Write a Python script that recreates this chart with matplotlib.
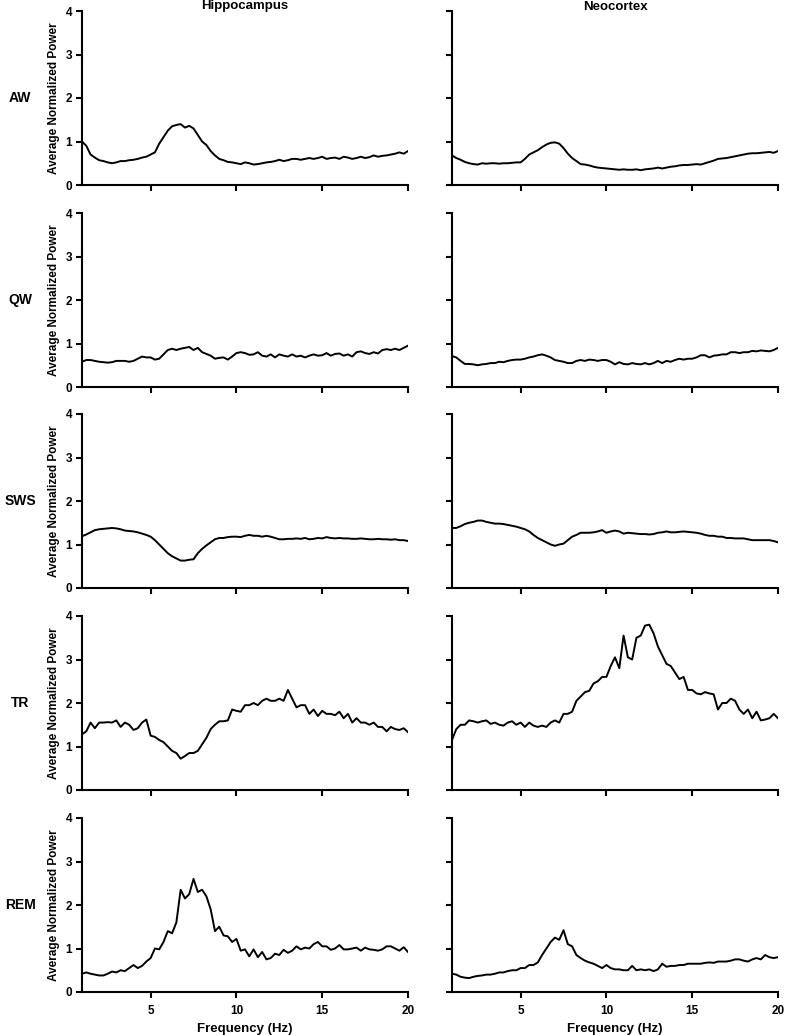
import matplotlib as mpl

mpl.use("Agg")
import matplotlib.pyplot as plt
import numpy as np

# frequency grid (Hz), 0.25 Hz steps from 1 to 20
freq = np.arange(1.0, 20.001, 0.25)

states = ["AW", "QW", "SWS", "TR", "REM"]
regions = ["Hippocampus", "Neocortex"]

hip_aw = [1.0, 0.9, 0.7, 0.63, 0.57, 0.55, 0.52, 0.5, 0.52, 0.55, 0.55, 0.57, 0.58, 0.6, 0.63, 0.65,
          0.7, 0.75, 0.95, 1.1, 1.25, 1.35, 1.38, 1.4, 1.32, 1.36, 1.3, 1.15, 1.0, 0.92, 0.78, 0.68,
          0.6, 0.57, 0.53, 0.52, 0.5, 0.48, 0.52, 0.5, 0.47, 0.48, 0.5, 0.52, 0.53, 0.55, 0.58, 0.55,
          0.57, 0.6, 0.6, 0.58, 0.6, 0.62, 0.6, 0.62, 0.65, 0.6, 0.62, 0.63, 0.6, 0.65, 0.63, 0.6,
          0.62, 0.65, 0.62, 0.64, 0.68, 0.65, 0.67, 0.68, 0.7, 0.72, 0.75, 0.72, 0.78]
neo_aw = [0.68, 0.62, 0.58, 0.53, 0.5, 0.48, 0.47, 0.5, 0.49, 0.5, 0.5, 0.49, 0.5, 0.5, 0.51, 0.52,
          0.52, 0.6, 0.7, 0.75, 0.8, 0.87, 0.93, 0.97, 0.98, 0.95, 0.85, 0.72, 0.62, 0.55, 0.48, 0.47,
          0.45, 0.42, 0.4, 0.39, 0.38, 0.37, 0.36, 0.35, 0.36, 0.35, 0.35, 0.36, 0.34, 0.36, 0.37, 0.38,
          0.4, 0.38, 0.4, 0.42, 0.43, 0.45, 0.46, 0.46, 0.47, 0.48, 0.47, 0.5, 0.53, 0.56, 0.6, 0.61,
          0.62, 0.64, 0.66, 0.68, 0.7, 0.72, 0.73, 0.73, 0.74, 0.75, 0.76, 0.74, 0.78]

hip_qw = [0.58, 0.62, 0.62, 0.6, 0.58, 0.57, 0.56, 0.57, 0.6, 0.6, 0.6, 0.58, 0.6, 0.65, 0.7, 0.68,
          0.68, 0.63, 0.65, 0.75, 0.85, 0.88, 0.85, 0.88, 0.9, 0.92, 0.85, 0.9, 0.8, 0.76, 0.72, 0.65,
          0.67, 0.68, 0.63, 0.7, 0.78, 0.8, 0.78, 0.74, 0.75, 0.8, 0.72, 0.7, 0.75, 0.68, 0.75, 0.72,
          0.7, 0.75, 0.7, 0.72, 0.68, 0.72, 0.75, 0.72, 0.73, 0.78, 0.72, 0.76, 0.77, 0.72, 0.75, 0.7,
          0.8, 0.82, 0.78, 0.76, 0.8, 0.77, 0.85, 0.87, 0.85, 0.88, 0.85, 0.9, 0.95]
neo_qw = [0.71, 0.68, 0.6, 0.53, 0.53, 0.52, 0.5, 0.52, 0.53, 0.55, 0.55, 0.58, 0.57, 0.6, 0.62, 0.63,
          0.63, 0.65, 0.68, 0.7, 0.73, 0.75, 0.72, 0.68, 0.62, 0.6, 0.58, 0.55, 0.55, 0.6, 0.62, 0.6,
          0.63, 0.62, 0.6, 0.62, 0.62, 0.58, 0.52, 0.57, 0.53, 0.52, 0.55, 0.53, 0.52, 0.55, 0.52, 0.55,
          0.6, 0.55, 0.6, 0.58, 0.62, 0.65, 0.63, 0.65, 0.65, 0.68, 0.73, 0.73, 0.68, 0.72, 0.73, 0.75,
          0.75, 0.8, 0.8, 0.78, 0.8, 0.8, 0.83, 0.82, 0.84, 0.83, 0.82, 0.85, 0.9]

hip_sws = [1.19, 1.23, 1.28, 1.33, 1.35, 1.36, 1.37, 1.38, 1.37, 1.35, 1.32, 1.31, 1.3, 1.28, 1.25, 1.22,
           1.18, 1.1, 1.0, 0.9, 0.8, 0.73, 0.68, 0.63, 0.63, 0.65, 0.66, 0.8, 0.9, 0.98, 1.05, 1.12,
           1.15, 1.15, 1.17, 1.18, 1.18, 1.17, 1.2, 1.22, 1.2, 1.2, 1.18, 1.2, 1.18, 1.15, 1.12, 1.12,
           1.13, 1.13, 1.14, 1.13, 1.15, 1.12, 1.13, 1.15, 1.14, 1.17, 1.15, 1.14, 1.15, 1.14, 1.14, 1.13,
           1.13, 1.14, 1.13, 1.12, 1.12, 1.13, 1.12, 1.12, 1.11, 1.12, 1.1, 1.1, 1.08]
neo_sws = [1.38, 1.38, 1.42, 1.47, 1.5, 1.52, 1.55, 1.55, 1.52, 1.5, 1.48, 1.48, 1.47, 1.45, 1.43, 1.41,
           1.38, 1.35, 1.3, 1.22, 1.15, 1.1, 1.05, 1.0, 0.97, 1.0, 1.02, 1.1, 1.18, 1.22, 1.27, 1.27,
           1.27, 1.28, 1.3, 1.33, 1.27, 1.3, 1.32, 1.3, 1.25, 1.27, 1.26, 1.25, 1.24, 1.24, 1.23, 1.24,
           1.27, 1.28, 1.3, 1.28, 1.28, 1.29, 1.3, 1.29, 1.28, 1.27, 1.25, 1.22, 1.2, 1.2, 1.18, 1.18,
           1.15, 1.15, 1.14, 1.14, 1.14, 1.12, 1.1, 1.1, 1.1, 1.1, 1.1, 1.08, 1.05]

hip_tr = [1.28, 1.35, 1.55, 1.42, 1.55, 1.55, 1.56, 1.55, 1.6, 1.45, 1.55, 1.5, 1.38, 1.42, 1.55, 1.62,
          1.25, 1.22, 1.15, 1.1, 1.0, 0.9, 0.85, 0.72, 0.78, 0.85, 0.85, 0.9, 1.05, 1.2, 1.4, 1.5,
          1.58, 1.58, 1.6, 1.85, 1.82, 1.8, 1.95, 1.95, 2.0, 1.95, 2.05, 2.1, 2.05, 2.05, 2.1, 2.05,
          2.3, 2.1, 1.9, 1.95, 1.95, 1.75, 1.85, 1.7, 1.82, 1.75, 1.75, 1.72, 1.8, 1.65, 1.75, 1.55,
          1.65, 1.55, 1.55, 1.5, 1.55, 1.45, 1.45, 1.35, 1.45, 1.4, 1.38, 1.42, 1.33]
neo_tr = [1.15, 1.4, 1.5, 1.5, 1.6, 1.58, 1.55, 1.58, 1.6, 1.52, 1.55, 1.5, 1.48, 1.55, 1.58, 1.5,
          1.55, 1.45, 1.55, 1.48, 1.45, 1.48, 1.45, 1.55, 1.6, 1.55, 1.75, 1.75, 1.8, 2.05, 2.15, 2.25,
          2.28, 2.45, 2.5, 2.6, 2.6, 2.85, 3.05, 2.8, 3.55, 3.05, 3.0, 3.5, 3.55, 3.78, 3.8, 3.6,
          3.3, 3.1, 2.9, 2.85, 2.7, 2.55, 2.6, 2.3, 2.3, 2.22, 2.2, 2.25, 2.22, 2.2, 1.85, 2.0,
          2.0, 2.1, 2.05, 1.85, 1.75, 1.85, 1.65, 1.8, 1.6, 1.62, 1.65, 1.75, 1.65]

hip_rem = [0.42, 0.45, 0.42, 0.4, 0.38, 0.38, 0.42, 0.47, 0.45, 0.5, 0.48, 0.55, 0.62, 0.55, 0.6, 0.7,
           0.78, 1.0, 0.98, 1.15, 1.4, 1.35, 1.6, 2.35, 2.15, 2.25, 2.6, 2.3, 2.35, 2.2, 1.9, 1.4,
           1.5, 1.3, 1.28, 1.15, 1.22, 0.95, 0.98, 0.82, 0.98, 0.8, 0.92, 0.75, 0.78, 0.88, 0.85, 0.97,
           0.9, 0.95, 1.05, 0.98, 1.02, 1.0, 1.1, 1.15, 1.05, 1.05, 0.97, 1.0, 1.08, 0.98, 0.98, 1.0,
           1.02, 0.95, 1.02, 0.98, 0.97, 0.95, 0.98, 1.05, 1.05, 1.0, 0.95, 1.03, 0.92]
neo_rem = [0.42, 0.4, 0.35, 0.33, 0.32, 0.35, 0.37, 0.38, 0.4, 0.4, 0.42, 0.45, 0.45, 0.48, 0.5, 0.5,
           0.55, 0.55, 0.62, 0.62, 0.68, 0.85, 1.0, 1.15, 1.25, 1.2, 1.42, 1.1, 1.05, 0.85, 0.78, 0.72,
           0.68, 0.65, 0.6, 0.55, 0.62, 0.55, 0.52, 0.52, 0.5, 0.5, 0.6, 0.5, 0.52, 0.5, 0.52, 0.48,
           0.52, 0.65, 0.58, 0.6, 0.6, 0.62, 0.62, 0.65, 0.65, 0.65, 0.65, 0.67, 0.68, 0.67, 0.7, 0.7,
           0.7, 0.72, 0.75, 0.75, 0.72, 0.7, 0.75, 0.78, 0.75, 0.85, 0.8, 0.78, 0.8]

series = [
    (hip_aw, neo_aw),
    (hip_qw, neo_qw),
    (hip_sws, neo_sws),
    (hip_tr, neo_tr),
    (hip_rem, neo_rem),
]

mpl.rcParams.update({
    "font.family": ["Liberation Sans", "DejaVu Sans"],
    "font.weight": "bold",
    "axes.linewidth": 1.5,
    "xtick.major.width": 1.5,
    "ytick.major.width": 1.5,
    "xtick.major.size": 4,
    "ytick.major.size": 4,
    "xtick.labelsize": 8.5,
    "ytick.labelsize": 8.5,
})

W, H = 786, 1035
fig = plt.figure(figsize=(W / 100, H / 100), dpi=100)

col_left = [82, 452]
col_w = 326
row_top = [11, 213, 414, 616, 818]
row_h = 174

for r, state in enumerate(states):
    for c in range(2):
        ax = fig.add_axes([col_left[c] / W, 1 - (row_top[r] + row_h) / H, col_w / W, row_h / H])
        ax.plot(freq, series[r][c], color="black", linewidth=1.4)
        ax.set_xlim(1, 20)
        ax.set_ylim(0, 4)
        ax.set_xticks([5, 10, 15, 20])
        ax.set_yticks([0, 1, 2, 3, 4])
        ax.spines["top"].set_visible(False)
        ax.spines["right"].set_visible(False)
        ax.tick_params(axis="y", direction="out", pad=3)
        ax.tick_params(axis="x", direction="out", pad=5)
        if r < len(states) - 1:
            ax.tick_params(labelbottom=False)
        else:
            ax.set_xlabel("Frequency (Hz)", fontsize=9.5, fontweight="bold", labelpad=5)
        if c == 0:
            ax.set_ylabel("Average Normalized Power", fontsize=8.5, fontweight="bold", labelpad=4)
        else:
            ax.tick_params(labelleft=False)
    fig.text(20 / W, 1 - (row_top[r] + row_h / 2) / H, state, fontsize=10,
             fontweight="bold", ha="center", va="center")

# column titles sit at the very top edge
for c, region in enumerate(regions):
    fig.text((col_left[c] + col_w / 2) / W, 1 - 0.5 / H, region, fontsize=9.5,
             fontweight="bold", ha="center", va="top")

fig.savefig("out.png", dpi=100)
